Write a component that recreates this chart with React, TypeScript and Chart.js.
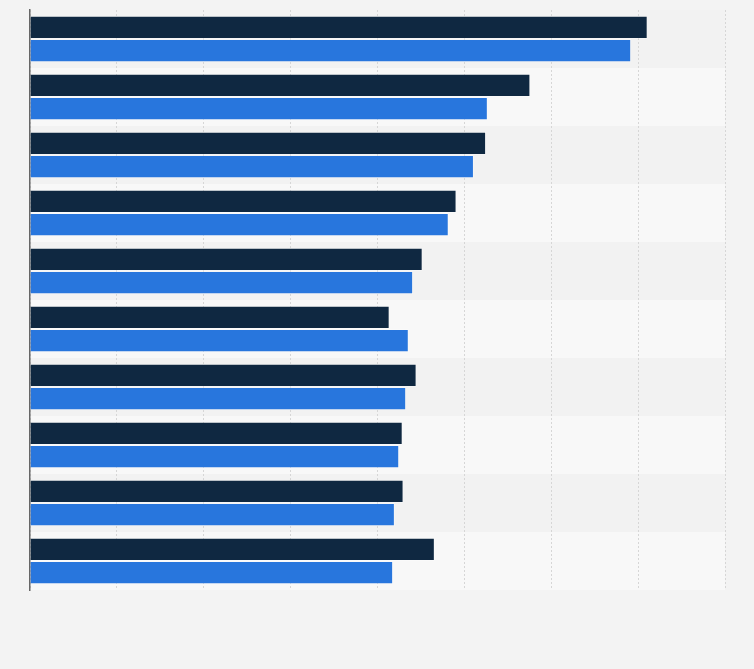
import React, { useEffect, useRef } from "react";
import { Chart, registerables } from "chart.js";

Chart.register(...registerables);

const categories = ["1", "2", "3", "4", "5", "6", "7", "8", "9", "10"];
const seriesA = [71.1, 57.6, 52.5, 49.1, 45.2, 41.4, 44.5, 42.9, 43.0, 46.6];
const seriesB = [69.2, 52.7, 51.1, 48.2, 44.1, 43.6, 43.3, 42.5, 42.0, 41.8];
const xMax = 80;
const xStep = 10;

const bandPlugin = {
  id: "bands",
  beforeDraw(chart: any) {
    const { ctx, chartArea } = chart;
    const n = categories.length;
    const h = (chartArea.bottom - chartArea.top) / n;
    ctx.save();
    for (let i = 0; i < n; i++) {
      ctx.fillStyle = i % 2 === 0 ? "#f2f2f2" : "#f8f8f8";
      ctx.fillRect(chartArea.left, chartArea.top + i * h, chartArea.right - chartArea.left, h);
    }
    ctx.restore();
  },
};

export default function App() {
  const ref = useRef<HTMLCanvasElement>(null);
  useEffect(() => {
    document.body.style.margin = "0";
    document.body.style.background = "#f3f3f3";
    const chart = new Chart(ref.current!, {
      type: "bar",
      data: {
        labels: categories,
        datasets: [
          {
            data: seriesA,
            backgroundColor: "#0f2841",
            borderColor: "rgba(255,255,255,0.25)",
            borderWidth: 1,
            categoryPercentage: 0.8,
            barPercentage: 1,
          },
          {
            data: seriesB,
            backgroundColor: "#2876dd",
            borderColor: "rgba(255,255,255,0.3)",
            borderWidth: 1,
            categoryPercentage: 0.8,
            barPercentage: 1,
          },
        ],
      },
      options: {
        indexAxis: "y",
        animation: false,
        responsive: false,
        layout: { padding: { left: 30, top: 10, right: 29, bottom: 79 } },
        plugins: { legend: { display: false }, tooltip: { enabled: false } },
        scales: {
          x: {
            min: 0,
            max: xMax,
            ticks: { display: false, stepSize: xStep },
            grid: {
              color: "#d6d6d6",
              lineWidth: 1,
              drawTicks: false,
            },
            border: { display: false, dash: [2, 2] },
          },
          y: {
            ticks: { display: false },
            grid: { display: false, drawTicks: false },
            border: { display: true, color: "#666666", width: 1.5 },
          },
        },
      },
      plugins: [bandPlugin],
    });
    return () => chart.destroy();
  }, []);
  return (
    <div style={{ width: 754, height: 669, background: "#f3f3f3" }}>
      <canvas ref={ref} width={754} height={669} style={{ display: "block" }} />
    </div>
  );
}
